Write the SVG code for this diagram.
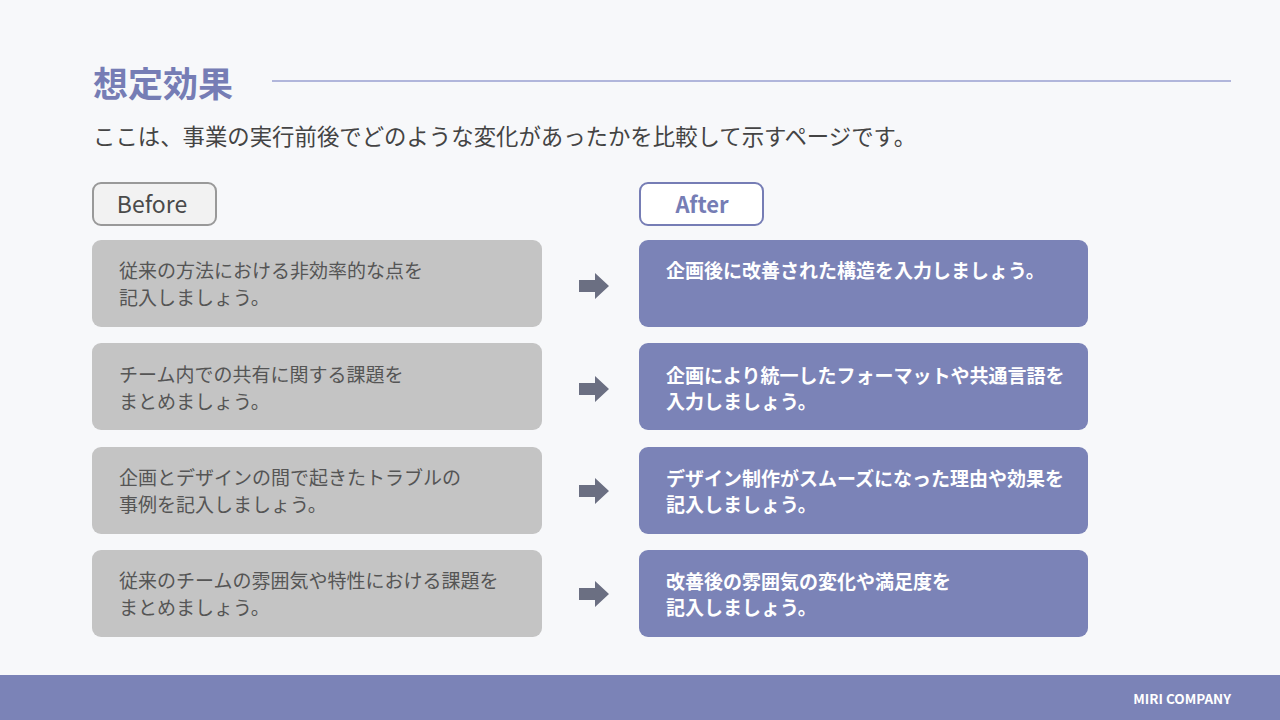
<svg xmlns="http://www.w3.org/2000/svg" width="1280" height="720" viewBox="0 0 1280 720">
<defs>
<style>
text{font-family:"Noto Sans CJK JP","Noto Sans",sans-serif}
.bx{fill:#c4c4c4}
.ax{fill:#7b83b7}
.bt{font-size:19px;fill:#555555}
.at{font-size:19px;fill:#ffffff;font-weight:700}
.arr{fill:#6b6f82}
</style>
<path id="arrow" d="M0,-6 H16 V-13 L30,0 L16,13 V6 H0 Z"/>
</defs>
<rect width="1280" height="720" fill="#f7f8fa"/>
<g id="header">
<text x="93" y="97" font-size="35" font-weight="700" fill="#767db5">想定効果</text>
<line x1="272" y1="81" x2="1231" y2="81" stroke="#9aa0d0" stroke-width="1.5"/>
<text x="93" y="145" font-size="22.4" fill="#444444">ここは、事業の実行前後でどのような変化があったかを比較して示すページです。</text>
</g>
<g id="before-label">
<rect x="93" y="183" width="123" height="42" rx="8" fill="#f2f2f2" stroke="#999999" stroke-width="2"/>
<text x="152" y="213" font-size="23" font-weight="400" fill="#4a4a4a" text-anchor="middle" font-family="'Noto Sans CJK JP',sans-serif">Before</text>
</g>
<g id="after-label">
<rect x="640" y="183" width="123" height="42" rx="8" fill="#ffffff" stroke="#767db5" stroke-width="2"/>
<text x="702" y="213" font-size="22" fill="#767db5" font-weight="700" text-anchor="middle" font-family="'Noto Sans',sans-serif">After</text>
</g>
<g id="before-1"><rect class="bx" x="92" y="240" width="450" height="87" rx="9"/>
<text class="bt" x="119" y="278">従来の方法における非効率的な点を</text><text class="bt" x="119" y="305">記入しましょう。</text></g>
<g id="before-2"><rect class="bx" x="92" y="343" width="450" height="87" rx="9"/>
<text class="bt" x="119" y="382">チーム内での共有に関する課題を</text><text class="bt" x="119" y="409">まとめましょう。</text></g>
<g id="before-3"><rect class="bx" x="92" y="447" width="450" height="87" rx="9"/>
<text class="bt" x="119" y="485">企画とデザインの間で起きたトラブルの</text><text class="bt" x="119" y="512">事例を記入しましょう。</text></g>
<g id="before-4"><rect class="bx" x="92" y="550" width="450" height="87" rx="9"/>
<text class="bt" x="119" y="588">従来のチームの雰囲気や特性における課題を</text><text class="bt" x="119" y="615">まとめましょう。</text></g>
<g id="after-1"><rect class="ax" x="639" y="240" width="449" height="87" rx="9"/>
<text class="at" x="666" y="278">企画後に改善された構造を入力しましょう。</text></g>
<g id="after-2"><rect class="ax" x="639" y="343" width="449" height="87" rx="9"/>
<text class="at" x="666" y="383">企画により統一したフォーマットや共通言語を</text><text class="at" x="666" y="409">入力しましょう。</text></g>
<g id="after-3"><rect class="ax" x="639" y="447" width="449" height="87" rx="9"/>
<text class="at" x="666" y="486">デザイン制作がスムーズになった理由や効果を</text><text class="at" x="666" y="512">記入しましょう。</text></g>
<g id="after-4"><rect class="ax" x="639" y="550" width="449" height="87" rx="9"/>
<text class="at" x="666" y="589">改善後の雰囲気の変化や満足度を</text><text class="at" x="666" y="615">記入しましょう。</text></g>
<g id="connectors">
<use href="#arrow" class="arr" x="579" y="286"/>
<use href="#arrow" class="arr" x="579" y="389"/>
<use href="#arrow" class="arr" x="579" y="491"/>
<use href="#arrow" class="arr" x="579" y="594"/>
</g>
<g id="footer">
<rect x="0" y="675" width="1280" height="45" fill="#7b83b7"/>
<text x="1231" y="704" font-size="13.5" font-weight="700" fill="#ffffff" text-anchor="end" font-family="'Noto Sans',sans-serif">MIRI COMPANY</text>
</g>
</svg>
